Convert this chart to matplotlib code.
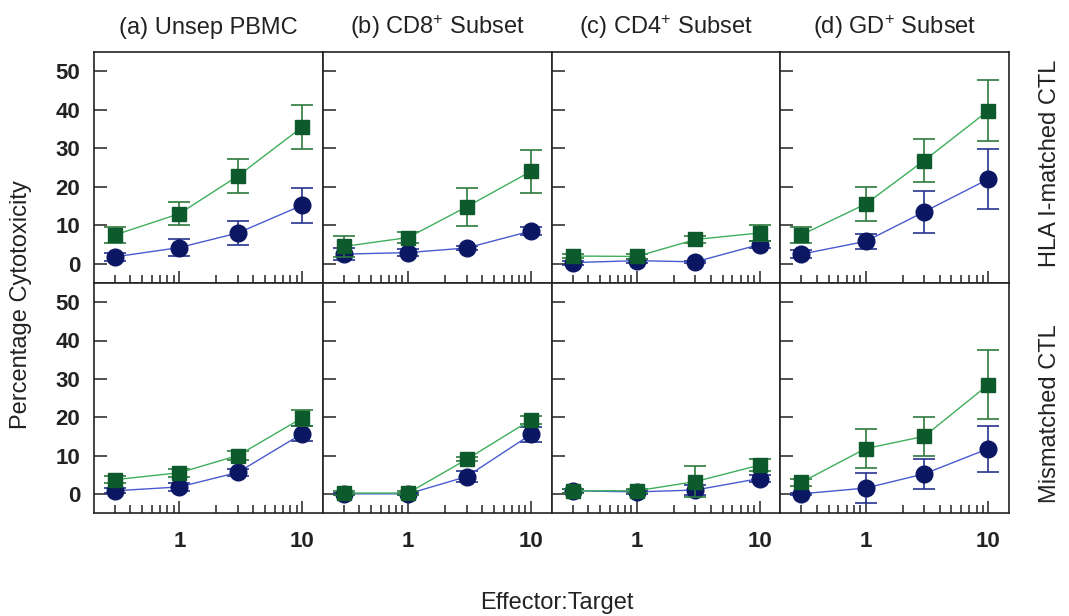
import matplotlib
matplotlib.use("Agg")
import matplotlib.pyplot as plt
from matplotlib.ticker import LogLocator, FixedLocator, NullFormatter, FixedFormatter

plt.rcParams['font.family'] = ['Liberation Sans', 'DejaVu Sans']
plt.rcParams['mathtext.fontset'] = 'custom'
plt.rcParams['mathtext.rm'] = 'Liberation Sans'
plt.rcParams['mathtext.default'] = 'regular'

# Effector:Target ratios
et_ratio = [0.3, 1, 3, 10]

panel_titles = ['(a) Unsep PBMC', r'(b) CD8$^{+}$ Subset',
                r'(c) CD4$^{+}$ Subset', r'(d) GD$^{+}$ Subset']
row_labels = ['HLA I-matched CTL', 'Mismatched CTL']

# HLA I-matched CTL (top row), per subset a-d
matched_sq_mean = [[7.5, 13.0, 22.8, 35.5],
                   [4.5, 6.8, 14.8, 24.0],
                   [2.0, 1.9, 6.3, 8.0],
                   [7.5, 15.5, 26.8, 39.8]]
matched_sq_err = [[2.0, 3.0, 4.4, 5.8],
                  [2.8, 1.5, 5.0, 5.5],
                  [0.5, 0.6, 0.8, 2.0],
                  [2.0, 4.5, 5.6, 8.0]]
matched_ci_mean = [[1.8, 4.2, 8.0, 15.2],
                   [2.5, 2.9, 4.1, 8.5],
                   [0.3, 0.8, 0.5, 5.0],
                   [2.5, 5.8, 13.5, 22.0]]
matched_ci_err = [[1.0, 2.1, 3.0, 4.6],
                  [1.5, 1.0, 0.5, 1.0],
                  [0.5, 0.5, 0.3, 1.0],
                  [1.0, 1.9, 5.5, 7.9]]

# Mismatched CTL (bottom row), per subset a-d
mismatched_sq_mean = [[3.7, 5.5, 10.0, 19.8],
                      [0.2, 0.2, 9.0, 19.3],
                      [0.8, 0.8, 3.2, 7.5],
                      [3.0, 11.8, 15.0, 28.5]]
mismatched_sq_err = [[1.0, 1.0, 1.2, 2.0],
                     [0.5, 0.5, 0.5, 1.0],
                     [0.5, 0.5, 4.0, 1.5],
                     [1.0, 5.0, 5.0, 9.0]]
mismatched_ci_mean = [[0.8, 1.8, 5.6, 15.7],
                      [0.0, 0.0, 4.5, 15.5],
                      [0.8, 0.5, 1.0, 4.0],
                      [0.0, 1.5, 5.2, 11.8]]
mismatched_ci_err = [[0.6, 1.0, 1.0, 2.0],
                     [0.3, 0.3, 1.5, 2.0],
                     [0.5, 0.5, 1.2, 1.0],
                     [0.3, 4.0, 4.0, 6.0]]

yticks = [0, 10, 20, 30, 40, 50]
xtick_major = [1, 10]
xtick_labels = ['1', '10']

rows = [(matched_sq_mean, matched_sq_err, matched_ci_mean, matched_ci_err),
        (mismatched_sq_mean, mismatched_sq_err, mismatched_ci_mean, mismatched_ci_err)]

sq_face = '#0d5a2c'
sq_line = '#3fae5c'
sq_bar = '#2c7a3c'
ci_face = '#0b1763'
ci_line = '#4a5ad0'
ci_bar = '#26338f'
ink = '#222222'

W, H = 1069, 616
fig = plt.figure(figsize=(W / 100, H / 100), dpi=100)

left_px, right_px = 94, 1009
top_px, mid_px, bot_px = 52, 283, 513
col_w = (right_px - left_px) / 4

for r, (sqm, sqe, cim, cie) in enumerate(rows):
    y_top = top_px if r == 0 else mid_px
    y_bot = mid_px if r == 0 else bot_px
    for c in range(4):
        x0 = left_px + c * col_w
        ax = fig.add_axes([x0 / W, 1 - y_bot / H, col_w / W, (y_bot - y_top) / H])
        ax.set_xscale('log')
        ax.set_xlim(0.202, 14.7)
        ax.set_ylim(-5, 55)

        ax.errorbar(et_ratio, cim[c], yerr=cie[c], fmt='none', ecolor=ci_bar,
                    elinewidth=1.2, capsize=8, capthick=1.2, zorder=2)
        ax.plot(et_ratio, cim[c], color=ci_line, lw=1.0, zorder=3)
        ax.plot(et_ratio, cim[c], 'o', ms=12, mfc=ci_face, mec=ci_face, ls='none', zorder=4)

        ax.errorbar(et_ratio, sqm[c], yerr=sqe[c], fmt='none', ecolor=sq_bar,
                    elinewidth=1.2, capsize=8, capthick=1.2, zorder=5)
        ax.plot(et_ratio, sqm[c], color=sq_line, lw=1.0, zorder=6)
        ax.plot(et_ratio, sqm[c], 's', ms=10, mfc=sq_face, mec=sq_face, ls='none', zorder=7)

        for s in ax.spines.values():
            s.set_linewidth(1.2)
            s.set_color(ink)

        ax.xaxis.set_major_locator(FixedLocator(xtick_major))
        ax.xaxis.set_minor_locator(LogLocator(base=10, subs=range(2, 10)))
        ax.xaxis.set_minor_formatter(NullFormatter())
        ax.yaxis.set_major_locator(FixedLocator(yticks))
        ax.yaxis.set_minor_locator(FixedLocator([]))

        ax.tick_params(axis='both', which='both', direction='in', top=False, right=False,
                       color=ink, width=1.1, labelcolor=ink)
        ax.tick_params(axis='x', which='major', length=9, pad=13, labelsize=16)
        ax.tick_params(axis='x', which='minor', length=5.5)
        ax.tick_params(axis='y', which='major', length=9, pad=10, labelsize=16)

        if r == 1:
            ax.xaxis.set_major_formatter(FixedFormatter(xtick_labels))
            for t in ax.get_xticklabels():
                t.set_fontweight('bold')
        else:
            ax.set_xticklabels([])
        if c == 0:
            ax.set_yticklabels([str(v) for v in yticks], fontweight='bold')
        else:
            ax.set_yticklabels([])

        if r == 0:
            ax.set_title(panel_titles[c], fontsize=17, color=ink, pad=13)

fig.text(1050 / W, 1 - 163 / H, row_labels[0], rotation=90, ha='center', va='center',
         fontsize=17, color=ink)
fig.text(1050 / W, 1 - 414 / H, row_labels[1], rotation=90, ha='center', va='center',
         fontsize=17, color=ink)
fig.text(21 / W, 1 - 305 / H, 'Percentage Cytotoxicity', rotation=90, ha='center',
         va='center', fontsize=17, color=ink)
fig.text(557 / W, 1 - 603 / H, 'Effector:Target', ha='center', va='center',
         fontsize=17, color=ink)

fig.savefig('out.png', dpi=100, facecolor='white')
